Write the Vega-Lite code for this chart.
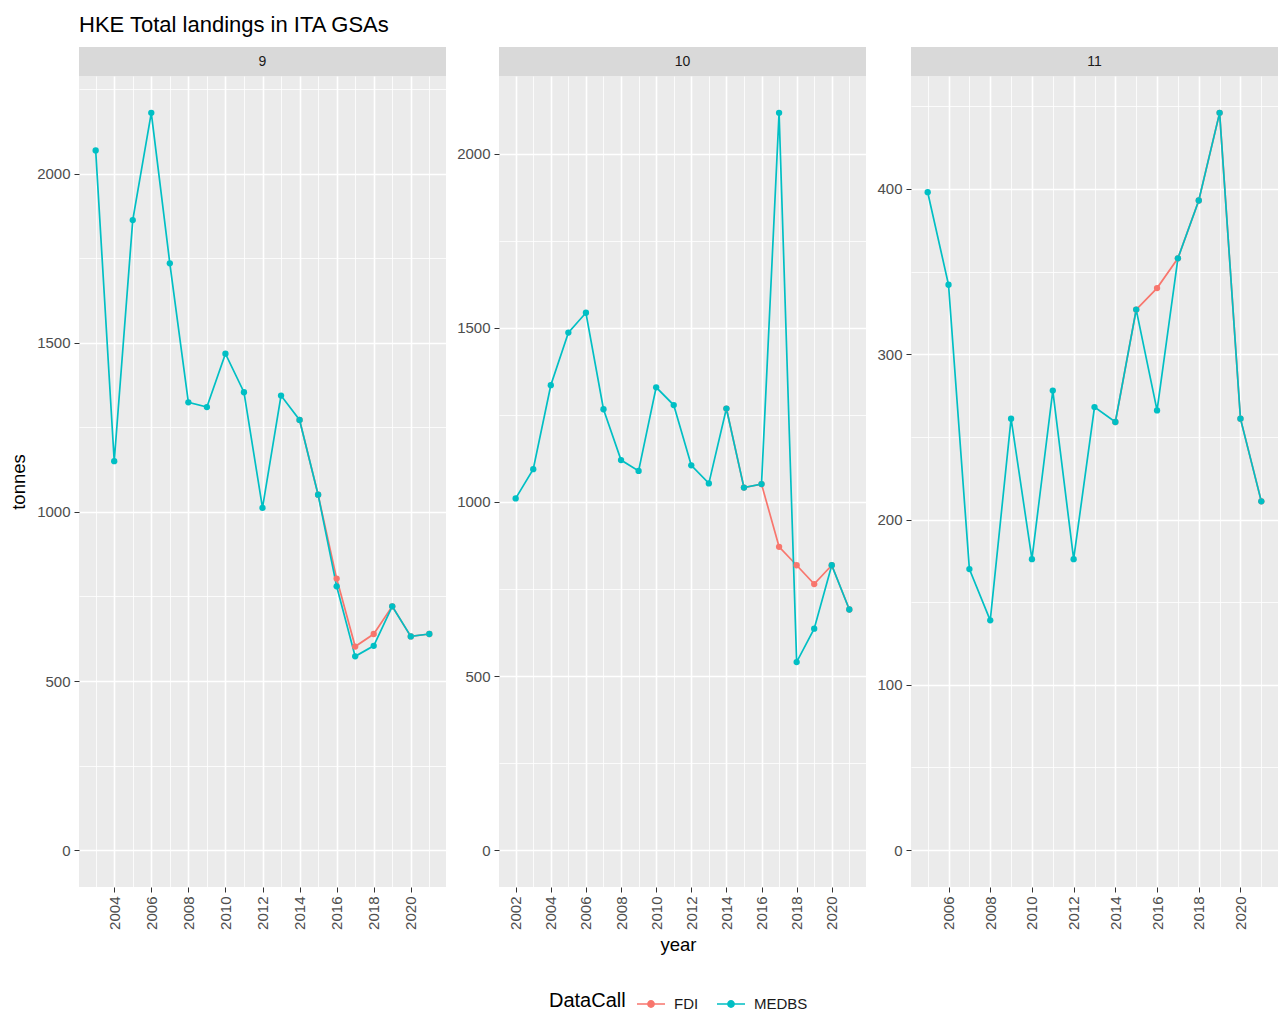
{
  "$schema": "https://vega.github.io/schema/vega-lite/v6.json",
  "padding": {"left": 9, "top": 14, "right": 2, "bottom": 4},
  "title": {"text": "HKE Total landings in ITA GSAs", "anchor": "start", "frame": "group", "fontSize": 22, "fontWeight": "normal", "color": "#000000", "offset": 10},
  "datasets": {
    "strips": [{"GSA": "9"}, {"GSA": "10"}, {"GSA": "11"}],
    "landings": [
      {"GSA": "9", "DataCall": "FDI", "year": 2014, "tonnes": 1272},
      {"GSA": "9", "DataCall": "FDI", "year": 2015, "tonnes": 1051},
      {"GSA": "9", "DataCall": "FDI", "year": 2016, "tonnes": 803},
      {"GSA": "9", "DataCall": "FDI", "year": 2017, "tonnes": 602},
      {"GSA": "9", "DataCall": "FDI", "year": 2018, "tonnes": 639},
      {"GSA": "9", "DataCall": "FDI", "year": 2019, "tonnes": 721},
      {"GSA": "9", "DataCall": "FDI", "year": 2020, "tonnes": 632},
      {"GSA": "9", "DataCall": "FDI", "year": 2021, "tonnes": 639},
      {"GSA": "10", "DataCall": "FDI", "year": 2014, "tonnes": 1268},
      {"GSA": "10", "DataCall": "FDI", "year": 2015, "tonnes": 1041},
      {"GSA": "10", "DataCall": "FDI", "year": 2016, "tonnes": 1051},
      {"GSA": "10", "DataCall": "FDI", "year": 2017, "tonnes": 871},
      {"GSA": "10", "DataCall": "FDI", "year": 2018, "tonnes": 818},
      {"GSA": "10", "DataCall": "FDI", "year": 2019, "tonnes": 764},
      {"GSA": "10", "DataCall": "FDI", "year": 2020, "tonnes": 818},
      {"GSA": "10", "DataCall": "FDI", "year": 2021, "tonnes": 691},
      {"GSA": "11", "DataCall": "FDI", "year": 2014, "tonnes": 259},
      {"GSA": "11", "DataCall": "FDI", "year": 2015, "tonnes": 327},
      {"GSA": "11", "DataCall": "FDI", "year": 2016, "tonnes": 340},
      {"GSA": "11", "DataCall": "FDI", "year": 2017, "tonnes": 358},
      {"GSA": "11", "DataCall": "FDI", "year": 2018, "tonnes": 393},
      {"GSA": "11", "DataCall": "FDI", "year": 2019, "tonnes": 446},
      {"GSA": "11", "DataCall": "FDI", "year": 2020, "tonnes": 261},
      {"GSA": "11", "DataCall": "FDI", "year": 2021, "tonnes": 211},
      {"GSA": "9", "DataCall": "MEDBS", "year": 2003, "tonnes": 2069},
      {"GSA": "9", "DataCall": "MEDBS", "year": 2004, "tonnes": 1150},
      {"GSA": "9", "DataCall": "MEDBS", "year": 2005, "tonnes": 1863},
      {"GSA": "9", "DataCall": "MEDBS", "year": 2006, "tonnes": 2180},
      {"GSA": "9", "DataCall": "MEDBS", "year": 2007, "tonnes": 1735},
      {"GSA": "9", "DataCall": "MEDBS", "year": 2008, "tonnes": 1324},
      {"GSA": "9", "DataCall": "MEDBS", "year": 2009, "tonnes": 1310},
      {"GSA": "9", "DataCall": "MEDBS", "year": 2010, "tonnes": 1468},
      {"GSA": "9", "DataCall": "MEDBS", "year": 2011, "tonnes": 1354},
      {"GSA": "9", "DataCall": "MEDBS", "year": 2012, "tonnes": 1012},
      {"GSA": "9", "DataCall": "MEDBS", "year": 2013, "tonnes": 1344},
      {"GSA": "9", "DataCall": "MEDBS", "year": 2014, "tonnes": 1272},
      {"GSA": "9", "DataCall": "MEDBS", "year": 2015, "tonnes": 1051},
      {"GSA": "9", "DataCall": "MEDBS", "year": 2016, "tonnes": 780},
      {"GSA": "9", "DataCall": "MEDBS", "year": 2017, "tonnes": 573},
      {"GSA": "9", "DataCall": "MEDBS", "year": 2018, "tonnes": 604},
      {"GSA": "9", "DataCall": "MEDBS", "year": 2019, "tonnes": 721},
      {"GSA": "9", "DataCall": "MEDBS", "year": 2020, "tonnes": 632},
      {"GSA": "9", "DataCall": "MEDBS", "year": 2021, "tonnes": 639},
      {"GSA": "10", "DataCall": "MEDBS", "year": 2002, "tonnes": 1010},
      {"GSA": "10", "DataCall": "MEDBS", "year": 2003, "tonnes": 1094},
      {"GSA": "10", "DataCall": "MEDBS", "year": 2004, "tonnes": 1335},
      {"GSA": "10", "DataCall": "MEDBS", "year": 2005, "tonnes": 1486},
      {"GSA": "10", "DataCall": "MEDBS", "year": 2006, "tonnes": 1543},
      {"GSA": "10", "DataCall": "MEDBS", "year": 2007, "tonnes": 1266},
      {"GSA": "10", "DataCall": "MEDBS", "year": 2008, "tonnes": 1120},
      {"GSA": "10", "DataCall": "MEDBS", "year": 2009, "tonnes": 1089},
      {"GSA": "10", "DataCall": "MEDBS", "year": 2010, "tonnes": 1329},
      {"GSA": "10", "DataCall": "MEDBS", "year": 2011, "tonnes": 1278},
      {"GSA": "10", "DataCall": "MEDBS", "year": 2012, "tonnes": 1105},
      {"GSA": "10", "DataCall": "MEDBS", "year": 2013, "tonnes": 1053},
      {"GSA": "10", "DataCall": "MEDBS", "year": 2014, "tonnes": 1268},
      {"GSA": "10", "DataCall": "MEDBS", "year": 2015, "tonnes": 1041},
      {"GSA": "10", "DataCall": "MEDBS", "year": 2016, "tonnes": 1051},
      {"GSA": "10", "DataCall": "MEDBS", "year": 2017, "tonnes": 2117},
      {"GSA": "10", "DataCall": "MEDBS", "year": 2018, "tonnes": 540},
      {"GSA": "10", "DataCall": "MEDBS", "year": 2019, "tonnes": 636},
      {"GSA": "10", "DataCall": "MEDBS", "year": 2020, "tonnes": 818},
      {"GSA": "10", "DataCall": "MEDBS", "year": 2021, "tonnes": 691},
      {"GSA": "11", "DataCall": "MEDBS", "year": 2005, "tonnes": 398},
      {"GSA": "11", "DataCall": "MEDBS", "year": 2006, "tonnes": 342},
      {"GSA": "11", "DataCall": "MEDBS", "year": 2007, "tonnes": 170},
      {"GSA": "11", "DataCall": "MEDBS", "year": 2008, "tonnes": 139},
      {"GSA": "11", "DataCall": "MEDBS", "year": 2009, "tonnes": 261},
      {"GSA": "11", "DataCall": "MEDBS", "year": 2010, "tonnes": 176},
      {"GSA": "11", "DataCall": "MEDBS", "year": 2011, "tonnes": 278},
      {"GSA": "11", "DataCall": "MEDBS", "year": 2012, "tonnes": 176},
      {"GSA": "11", "DataCall": "MEDBS", "year": 2013, "tonnes": 268},
      {"GSA": "11", "DataCall": "MEDBS", "year": 2014, "tonnes": 259},
      {"GSA": "11", "DataCall": "MEDBS", "year": 2015, "tonnes": 327},
      {"GSA": "11", "DataCall": "MEDBS", "year": 2016, "tonnes": 266},
      {"GSA": "11", "DataCall": "MEDBS", "year": 2017, "tonnes": 358},
      {"GSA": "11", "DataCall": "MEDBS", "year": 2018, "tonnes": 393},
      {"GSA": "11", "DataCall": "MEDBS", "year": 2019, "tonnes": 446},
      {"GSA": "11", "DataCall": "MEDBS", "year": 2020, "tonnes": 261},
      {"GSA": "11", "DataCall": "MEDBS", "year": 2021, "tonnes": 211}
    ]
  },
  "spacing": 10,
  "resolve": {"scale": {"color": "shared"}},
  "hconcat": [
    {
      "spacing": 0,
      "vconcat": [
        {
          "width": 367, "height": 29,
          "view": {"fill": "#d9d9d9", "stroke": null},
          "data": {"name": "strips"},
          "transform": [{"filter": "datum.GSA === '9'"}],
          "mark": {"type": "text", "fontSize": 14, "color": "#1a1a1a"},
          "encoding": {"text": {"field": "GSA"}}
        },
        {
          "width": 367, "height": 811,
          "view": {"fill": "#ebebeb", "stroke": null},
          "data": {"name": "landings"},
          "transform": [{"filter": "datum.GSA === '9'"}],
          "encoding": {
            "x": {"field": "year", "type": "quantitative",
              "scale": {"domain": [2002.1, 2021.9], "nice": false, "zero": false},
              "axis": {"title": null, "values": [2003, 2004, 2005, 2006, 2007, 2008, 2009, 2010, 2011, 2012, 2013, 2014, 2015, 2016, 2017, 2018, 2019, 2020, 2021],
                "format": "d", "labelAngle": -90,
                "labelExpr": "datum.value % 2 === 0 ? datum.label : ''",
                "gridWidth": {"condition": {"test": "datum.value % 2 !== 0", "value": 0.8}, "value": 1.6},
                "tickOpacity": {"condition": {"test": "datum.value % 2 !== 0", "value": 0}, "value": 1}}},
            "y": {"field": "tonnes", "type": "quantitative",
              "scale": {"domain": [-109, 2289], "nice": false, "zero": false},
              "axis": {"title": "tonnes", "values": [0, 250, 500, 750, 1000, 1250, 1500, 1750, 2000, 2250],
                "format": "d",
                "labelExpr": "datum.value % 500 === 0 ? datum.label : ''",
                "gridWidth": {"condition": {"test": "datum.value % 500 !== 0", "value": 0.8}, "value": 1.6},
                "tickOpacity": {"condition": {"test": "datum.value % 500 !== 0", "value": 0}, "value": 1}}},
            "color": {"field": "DataCall", "type": "nominal",
              "scale": {"domain": ["FDI", "MEDBS"], "range": ["#F8766D", "#00BFC4"]},
              "legend": {"title": "DataCall"}}
          },
          "layer": [
            {"mark": {"type": "line", "strokeWidth": 1.7}},
            {"mark": {"type": "point", "filled": true, "size": 40, "opacity": 1}}
          ]
        }
      ]
    },
    {
      "spacing": 0,
      "vconcat": [
        {
          "width": 367, "height": 29,
          "view": {"fill": "#d9d9d9", "stroke": null},
          "data": {"name": "strips"},
          "transform": [{"filter": "datum.GSA === '10'"}],
          "mark": {"type": "text", "fontSize": 14, "color": "#1a1a1a"},
          "encoding": {"text": {"field": "GSA"}}
        },
        {
          "width": 367, "height": 811,
          "view": {"fill": "#ebebeb", "stroke": null},
          "data": {"name": "landings"},
          "transform": [{"filter": "datum.GSA === '10'"}],
          "encoding": {
            "x": {"field": "year", "type": "quantitative",
              "scale": {"domain": [2001.05, 2021.95], "nice": false, "zero": false},
              "axis": {"title": "year", "titleX": 179, "titlePadding": 6,
                "values": [2002, 2003, 2004, 2005, 2006, 2007, 2008, 2009, 2010, 2011, 2012, 2013, 2014, 2015, 2016, 2017, 2018, 2019, 2020, 2021],
                "format": "d", "labelAngle": -90,
                "labelExpr": "datum.value % 2 === 0 ? datum.label : ''",
                "gridWidth": {"condition": {"test": "datum.value % 2 !== 0", "value": 0.8}, "value": 1.6},
                "tickOpacity": {"condition": {"test": "datum.value % 2 !== 0", "value": 0}, "value": 1}}},
            "y": {"field": "tonnes", "type": "quantitative",
              "scale": {"domain": [-105.85, 2222.85], "nice": false, "zero": false},
              "axis": {"title": null, "values": [0, 250, 500, 750, 1000, 1250, 1500, 1750, 2000],
                "format": "d",
                "labelExpr": "datum.value % 500 === 0 ? datum.label : ''",
                "gridWidth": {"condition": {"test": "datum.value % 500 !== 0", "value": 0.8}, "value": 1.6},
                "tickOpacity": {"condition": {"test": "datum.value % 500 !== 0", "value": 0}, "value": 1}}},
            "color": {"field": "DataCall", "type": "nominal",
              "scale": {"domain": ["FDI", "MEDBS"], "range": ["#F8766D", "#00BFC4"]},
              "legend": {"title": "DataCall"}}
          },
          "layer": [
            {"mark": {"type": "line", "strokeWidth": 1.7}},
            {"mark": {"type": "point", "filled": true, "size": 40, "opacity": 1}}
          ]
        }
      ]
    },
    {
      "spacing": 0,
      "vconcat": [
        {
          "width": 367, "height": 29,
          "view": {"fill": "#d9d9d9", "stroke": null},
          "data": {"name": "strips"},
          "transform": [{"filter": "datum.GSA === '11'"}],
          "mark": {"type": "text", "fontSize": 14, "color": "#1a1a1a"},
          "encoding": {"text": {"field": "GSA"}}
        },
        {
          "width": 367, "height": 811,
          "view": {"fill": "#ebebeb", "stroke": null},
          "data": {"name": "landings"},
          "transform": [{"filter": "datum.GSA === '11'"}],
          "encoding": {
            "x": {"field": "year", "type": "quantitative",
              "scale": {"domain": [2004.2, 2021.8], "nice": false, "zero": false},
              "axis": {"title": null, "values": [2005, 2006, 2007, 2008, 2009, 2010, 2011, 2012, 2013, 2014, 2015, 2016, 2017, 2018, 2019, 2020, 2021],
                "format": "d", "labelAngle": -90,
                "labelExpr": "datum.value % 2 === 0 ? datum.label : ''",
                "gridWidth": {"condition": {"test": "datum.value % 2 !== 0", "value": 0.8}, "value": 1.6},
                "tickOpacity": {"condition": {"test": "datum.value % 2 !== 0", "value": 0}, "value": 1}}},
            "y": {"field": "tonnes", "type": "quantitative",
              "scale": {"domain": [-22.3, 468.3], "nice": false, "zero": false},
              "axis": {"title": null, "values": [0, 50, 100, 150, 200, 250, 300, 350, 400, 450],
                "format": "d",
                "labelExpr": "datum.value % 100 === 0 ? datum.label : ''",
                "gridWidth": {"condition": {"test": "datum.value % 100 !== 0", "value": 0.8}, "value": 1.6},
                "tickOpacity": {"condition": {"test": "datum.value % 100 !== 0", "value": 0}, "value": 1}}},
            "color": {"field": "DataCall", "type": "nominal",
              "scale": {"domain": ["FDI", "MEDBS"], "range": ["#F8766D", "#00BFC4"]},
              "legend": {"title": "DataCall"}}
          },
          "layer": [
            {"mark": {"type": "line", "strokeWidth": 1.7}},
            {"mark": {"type": "point", "filled": true, "size": 40, "opacity": 1}}
          ]
        }
      ]
    }
  ],
  "config": {
    "font": "Liberation Sans",
    "view": {"stroke": null},
    "title": {"font": "Liberation Sans"},
    "axis": {
      "domain": false,
      "gridColor": "#ffffff",
      "gridOpacity": 1,
      "tickColor": "#333333",
      "tickSize": 5,
      "tickWidth": 1,
      "labelColor": "#4d4d4d",
      "labelFont": "Liberation Sans",
      "labelFontSize": 15,
      "labelPadding": 4,
      "labelOverlap": false,
      "labelFlush": false,
      "labelBound": false,
      "titleFont": "Liberation Sans",
      "titleFontSize": 18.5,
      "titleFontWeight": "normal",
      "titleColor": "#000000",
      "titlePadding": 8
    },
    "legend": {
      "orient": "none",
      "legendX": 470,
      "legendY": 942,
      "direction": "horizontal",
      "titleOrient": "left",
      "titleFont": "Liberation Sans",
      "titleFontSize": 20,
      "titleFontWeight": "normal",
      "titleColor": "#000000",
      "titlePadding": 10,
      "labelFont": "Liberation Sans",
      "labelFontSize": 15,
      "labelColor": "#1a1a1a",
      "labelOffset": 8,
      "columnPadding": 14,
      "symbolType": "M-1,0L1,0M-0.22,0A0.22,0.22,0,1,0,0.22,0A0.22,0.22,0,1,0,-0.22,0Z",
      "symbolSize": 784,
      "symbolStrokeWidth": 1.6
    }
  }
}
